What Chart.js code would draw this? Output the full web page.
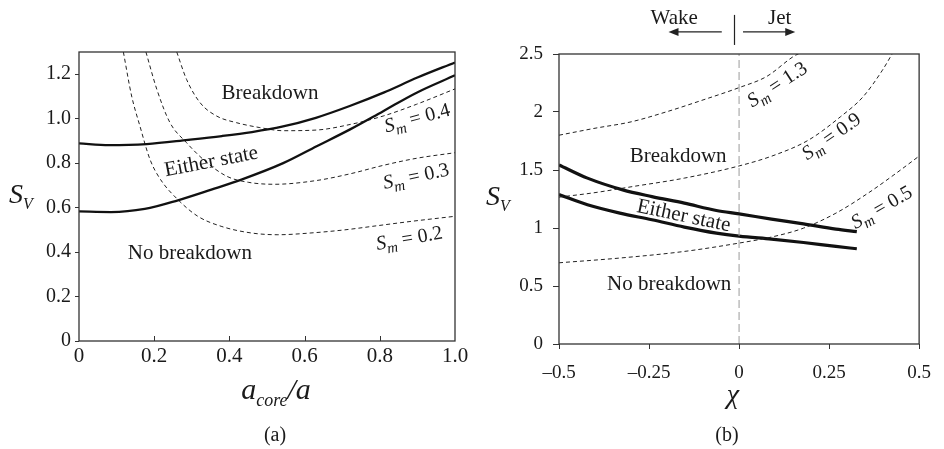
<!DOCTYPE html>
<html>
<head>
<meta charset="utf-8">
<script src="https://cdn.jsdelivr.net/npm/chart.js@4.4.0/dist/chart.umd.min.js"></script>
<style>
  html, body { margin: 0; padding: 0; background: #fff; }
  .panel { position: absolute; top: 0; width: 472px; height: 449px; }
  #wrapA { left: 0; }
  #wrapB { left: 472px; }
</style>
</head>
<body>
<div class="panel" id="wrapA"><canvas id="chartA" width="472" height="449"></canvas></div>
<div class="panel" id="wrapB"><canvas id="chartB" width="472" height="449"></canvas></div>
<script>
// ---- panel (a): S_V against a_core/a ----
const aXTicks = [0, 0.2, 0.4, 0.6, 0.8, 1.0];
const aXLabels = ['0', '0.2', '0.4', '0.6', '0.8', '1.0'];
const aYTicks = [0, 0.2, 0.4, 0.6, 0.8, 1.0, 1.2];
const aYLabels = ['0', '0.2', '0.4', '0.6', '0.8', '1.0', '1.2'];

const aUpper = [[0, 0.889], [0.08, 0.881], [0.18, 0.886], [0.29, 0.905], [0.38, 0.922], [0.46, 0.940],
  [0.54, 0.964], [0.63, 1.004], [0.72, 1.057], [0.81, 1.117], [0.90, 1.185], [1.0, 1.253]];
const aLower = [[0, 0.583], [0.085, 0.580], [0.175, 0.594], [0.263, 0.633], [0.352, 0.681], [0.432, 0.726],
  [0.543, 0.800], [0.632, 0.876], [0.721, 0.952], [0.809, 1.034], [0.898, 1.117], [1.0, 1.195]];
const aSm02 = [[0.118, 1.30], [0.140, 1.102], [0.162, 0.967], [0.189, 0.816], [0.217, 0.726], [0.263, 0.636],
  [0.316, 0.561], [0.378, 0.516], [0.458, 0.486], [0.529, 0.478], [0.617, 0.486], [0.707, 0.500],
  [0.795, 0.519], [0.883, 0.538], [1.0, 0.561]];
const aSm03 = [[0.178, 1.30], [0.207, 1.132], [0.242, 0.982], [0.286, 0.892], [0.331, 0.816], [0.393, 0.741],
  [0.45, 0.714], [0.52, 0.705], [0.632, 0.722], [0.721, 0.752], [0.809, 0.790], [0.898, 0.822], [1.0, 0.847]];
const aSm04 = [[0.26, 1.30], [0.286, 1.177], [0.322, 1.072], [0.366, 1.012], [0.419, 0.982], [0.481, 0.960],
  [0.543, 0.946], [0.632, 0.949], [0.721, 0.974], [0.809, 1.012], [0.898, 1.065], [1.0, 1.134]];

// ---- panel (b): S_V against chi ----
const bXTicks = [-0.5, -0.25, 0, 0.25, 0.5];
const bXLabels = ['\u20130.5', '\u20130.25', '0', '0.25', '0.5'];
const bYTicks = [0, 0.5, 1, 1.5, 2, 2.5];
const bYLabels = ['0', '0.5', '1', '1.5', '2', '2.5'];

const bUpper = [[-0.5, 1.544], [-0.421, 1.43], [-0.323, 1.329], [-0.242, 1.271], [-0.152, 1.214], [-0.063, 1.151],
  [0, 1.122], [0.09, 1.077], [0.179, 1.036], [0.269, 0.990], [0.327, 0.968]];
const bLower = [[-0.5, 1.288], [-0.421, 1.20], [-0.331, 1.128], [-0.242, 1.071], [-0.152, 1.008], [-0.063, 0.956],
  [0, 0.930], [0.09, 0.904], [0.179, 0.875], [0.269, 0.841], [0.327, 0.821]];
const bSm13 = [[-0.5, 1.80], [-0.4, 1.86], [-0.3, 1.915], [-0.2, 2.003], [-0.1, 2.104], [0, 2.21],
  [0.076, 2.305], [0.157, 2.49], [0.165, 2.5]];
const bSm09 = [[-0.5, 1.266], [-0.4, 1.305], [-0.3, 1.355], [-0.152, 1.43], [0, 1.535], [0.1, 1.63],
  [0.194, 1.76], [0.282, 1.96], [0.344, 2.13], [0.398, 2.36], [0.425, 2.5]];
const bSm05 = [[-0.5, 0.70], [-0.331, 0.741], [-0.152, 0.798], [0, 0.87], [0.09, 0.922], [0.179, 0.999],
  [0.269, 1.128], [0.358, 1.30], [0.43, 1.458], [0.5, 1.62]];
const bZeroLine = [[0, 0], [0, 2.5]];

const SERIF = '"Liberation Serif", "Times New Roman", serif';
Chart.defaults.font.family = SERIF;
Chart.defaults.color = '#1a1a1a';

const pts = arr => arr.map(p => ({ x: p[0], y: p[1] }));

function solid(data, w) {
  return { data: pts(data), showLine: true, borderColor: '#111', borderWidth: w, pointRadius: 0,
    tension: 0.4, cubicInterpolationMode: 'monotone' };
}
function dashed(data) {
  return { data: pts(data), showLine: true, borderColor: '#222', borderWidth: 1, borderDash: [4, 3],
    pointRadius: 0, tension: 0.4, cubicInterpolationMode: 'monotone' };
}

// draw a row of text runs (for subscripts), centred at cx,cy
function drawRuns(ctx, runs, cx, cy, angle) {
  ctx.save();
  ctx.translate(cx, cy);
  ctx.rotate((angle || 0) * Math.PI / 180);
  let w = 0;
  runs.forEach(r => { ctx.font = r.font; r.w = ctx.measureText(r.t).width; w += r.w; });
  let x = -w / 2;
  const base = runs[0].size * 0.33;
  ctx.fillStyle = '#1a1a1a';
  ctx.textBaseline = 'alphabetic';
  ctx.textAlign = 'left';
  runs.forEach(r => { ctx.font = r.font; ctx.fillText(r.t, x, base + (r.dy || 0)); x += r.w; });
  ctx.restore();
}
const run = (t, size, italic, dy) => ({ t, size, dy, font: (italic ? 'italic ' : '') + size + 'px ' + SERIF });
const plain = t => [run(t, 21, false)];
const smLabel = v => [run('S', 20, true), run('m', 15, true, 5), run(' = ' + v, 20, false)];
const svTitle = [run('S', 28, true), run('V', 16, true, 6)];

function panelPlugin(cfg) {
  return {
    id: 'panel',
    afterDraw(chart) {
      const { ctx, chartArea: a, scales: { x, y } } = chart;
      ctx.save();
      ctx.strokeStyle = '#333';
      ctx.lineWidth = 1.3;
      ctx.strokeRect(a.left, a.top, a.right - a.left, a.bottom - a.top);
      if (cfg.innerXTicks) {
        ctx.lineWidth = 1;
        cfg.innerXTicks.forEach(v => {
          const px = Math.round(x.getPixelForValue(v)) + 0.5;
          ctx.beginPath(); ctx.moveTo(px, a.bottom); ctx.lineTo(px, a.bottom - 5); ctx.stroke();
        });
      }
      cfg.texts.forEach(t => drawRuns(ctx, t.runs, x.getPixelForValue(t.x), y.getPixelForValue(t.y), t.angle));
      cfg.fixed.forEach(t => drawRuns(ctx, t.runs, t.px, t.py, 0));
      if (cfg.arrows) {
        ctx.strokeStyle = '#222';
        ctx.fillStyle = '#222';
        ctx.lineWidth = 1.2;
        cfg.arrows.forEach(ar => {
          const x0 = x.getPixelForValue(ar.from), x1 = x.getPixelForValue(ar.to), py = y.getPixelForValue(ar.y);
          const dir = Math.sign(x1 - x0);
          ctx.beginPath(); ctx.moveTo(x0, py); ctx.lineTo(x1 - dir * 8, py); ctx.stroke();
          ctx.beginPath(); ctx.moveTo(x1, py); ctx.lineTo(x1 - dir * 10, py - 4); ctx.lineTo(x1 - dir * 10, py + 4);
          ctx.closePath(); ctx.fill();
        });
        const sx = Math.round(x.getPixelForValue(cfg.divider.x)) + 0.5;
        ctx.beginPath();
        ctx.moveTo(sx, y.getPixelForValue(cfg.divider.y0));
        ctx.lineTo(sx, y.getPixelForValue(cfg.divider.y1));
        ctx.stroke();
      }
      ctx.restore();
    }
  };
}

function scaleOpts(ticks, labels, size, boxSize, tickLen, pad, axis) {
  return {
    type: 'linear',
    min: ticks[0],
    max: axis === 'y' ? undefined : ticks[ticks.length - 1],
    afterBuildTicks: s => { s.ticks = ticks.map(v => ({ value: v })); },
    afterFit: s => { if (axis === 'y') s.width = boxSize; else s.height = boxSize; },
    ticks: { callback: (v, i) => labels[i], font: { size }, padding: pad, maxRotation: 0, autoSkip: false, color: '#1a1a1a' },
    grid: { drawOnChartArea: false, drawTicks: tickLen > 0, tickLength: tickLen, color: '#333' },
    border: { display: false }
  };
}

// ---- chart (a) ----
const ya = scaleOpts(aYTicks, aYLabels, 20, 79, 4, 4, 'y');
ya.max = 1.3;
new Chart(document.getElementById('chartA'), {
  type: 'scatter',
  data: { datasets: [solid(aUpper, 2.3), solid(aLower, 2.3), dashed(aSm02), dashed(aSm03), dashed(aSm04)] },
  options: {
    responsive: false,
    animation: false,
    layout: { padding: { left: 0, right: 17, top: 52, bottom: 0 } },
    plugins: { legend: { display: false }, tooltip: { enabled: false } },
    scales: { x: scaleOpts(aXTicks, aXLabels, 21, 108, 0, 3, 'x'), y: ya }
  },
  plugins: [panelPlugin({
    innerXTicks: aXTicks.slice(1, -1),
    texts: [
      { runs: plain('Breakdown'), x: 0.508, y: 1.119 },
      { runs: plain('Either state'), x: 0.351, y: 0.812, angle: -11 },
      { runs: plain('No breakdown'), x: 0.295, y: 0.401 },
      { runs: smLabel('0.4'), x: 0.899, y: 1.006, angle: -15 },
      { runs: smLabel('0.3'), x: 0.896, y: 0.744, angle: -12 },
      { runs: smLabel('0.2'), x: 0.878, y: 0.465, angle: -10 }
    ],
    fixed: [
      { runs: svTitle, px: 21, py: 194 },
      { runs: [run('a', 30, true), run('core', 18, true, 7), run('/a', 30, true)], px: 276, py: 389 },
      { runs: [run('(a)', 20, false)], px: 275, py: 434 }
    ]
  })]
});

// ---- chart (b) ----
const yb = scaleOpts(bYTicks, bYLabels, 19, 87, 6, 10, 'y');
yb.max = 2.5;
const zeroDs = { data: pts(bZeroLine), showLine: true, borderColor: '#9a9a9a', borderWidth: 1, borderDash: [8, 4],
  pointRadius: 0, tension: 0 };
new Chart(document.getElementById('chartB'), {
  type: 'scatter',
  data: { datasets: [zeroDs, dashed(bSm13), dashed(bSm09), dashed(bSm05), solid(bUpper, 3.2), solid(bLower, 3.2)] },
  options: {
    responsive: false,
    animation: false,
    layout: { padding: { left: 0, right: 13, top: 54, bottom: 0 } },
    plugins: { legend: { display: false }, tooltip: { enabled: false } },
    scales: { x: scaleOpts(bXTicks, bXLabels, 19, 105, 5, 13, 'x'), y: yb }
  },
  plugins: [panelPlugin({
    texts: [
      { runs: plain('Breakdown'), x: -0.169, y: 1.63 },
      { runs: plain('Either state'), x: -0.153, y: 1.114, angle: 12 },
      { runs: plain('No breakdown'), x: -0.194, y: 0.528 },
      { runs: smLabel('1.3'), x: 0.105, y: 2.242, angle: -33 },
      { runs: smLabel('0.9'), x: 0.255, y: 1.794, angle: -35 },
      { runs: smLabel('0.5'), x: 0.395, y: 1.183, angle: -30 },
      { runs: plain('Wake'), x: -0.18, y: 2.82 },
      { runs: plain('Jet'), x: 0.113, y: 2.82 }
    ],
    arrows: [{ from: -0.048, to: -0.196, y: 2.69 }, { from: 0.011, to: 0.156, y: 2.69 }],
    divider: { x: -0.013, y0: 2.578, y1: 2.837 },
    fixed: [
      { runs: svTitle, px: 26, py: 196 },
      { runs: [run('\u03c7', 28, true)], px: 261, py: 394 },
      { runs: [run('(b)', 20, false)], px: 255, py: 434 }
    ]
  })]
});
</script>
</body>
</html>
